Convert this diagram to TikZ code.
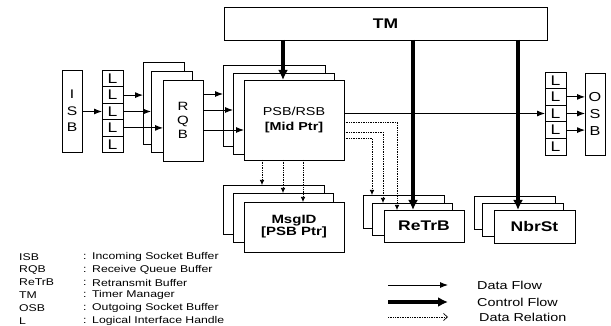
\documentclass[tikz,border=0pt]{standalone}
\usepackage{fontspec}
\setmainfont{Liberation Sans}[FakeStretch=1.25]
\usetikzlibrary{arrows.meta}
\begin{document}
\begin{tikzpicture}[x=1pt,y=-1pt,
  box/.style={draw, fill=white, line width=0.9pt, inner sep=0pt, outer sep=0pt},
  flow/.style={line width=0.9pt, -{Latex[length=8pt,width=6pt]}},
  ctrl/.style={line width=3.2pt, -{Latex[length=10pt,width=10pt]}},
  rel/.style={line width=0.7pt, densely dotted, -{Latex[length=5pt,width=4.5pt]}},
  vtext/.style={align=center, font=\fontsize{12.5}{16.5}\selectfont},
  lgtext/.style={anchor=west, inner sep=0pt, font=\fontsize{9.8}{11}\selectfont},
  lgtextb/.style={anchor=west, inner sep=0pt, font=\fontsize{11.5}{13}\selectfont}]
\useasboundingbox (0,0) rectangle (611,326);

% TM
\node[box, minimum width=323pt, minimum height=33pt, font=\fontsize{14}{16}\selectfont\bfseries] (TM) at (385.5,23.5) {TM};

% ISB
\node[box, minimum width=20pt, minimum height=82pt, vtext] (ISB) at (72,111) {I\\S\\B};

% left L stack
\foreach \i in {1,...,5}
  \node[box, minimum width=21pt, minimum height=16.4pt, font=\fontsize{14}{14}\selectfont] (La\i) at (112.5,{70.5+16.4*(\i-0.5)}) {L};

% RQB stack
\node[box, minimum width=41pt, minimum height=82pt] (rqbA) at (163.5,103) {};
\node[box, minimum width=41pt, minimum height=81pt] (rqbB) at (171.5,111.5) {};
\node[box, minimum width=40pt, minimum height=81pt, align=center, font=\fontsize{12}{14}\selectfont] (rqbC) at (183,120.5) {R\\Q\\B};

% PSB/RSB stack
\node[box, minimum width=102pt, minimum height=81pt] (psbA) at (274,105.5) {};
\node[box, minimum width=101pt, minimum height=81pt] (psbB) at (283.5,113.5) {};
\node[box, minimum width=100pt, minimum height=80pt, align=center, font=\fontsize{11.5}{15}\selectfont] (psbC) at (294,120) {PSB/RSB\\{\bfseries [Mid Ptr]}};

% MsgID stack
\node[box, minimum width=101pt, minimum height=49pt] (msA) at (273.5,209.5) {};
\node[box, minimum width=100pt, minimum height=49pt] (msB) at (283,217.5) {};
\node[box, minimum width=100pt, minimum height=50pt, align=center, font=\fontsize{12}{12}\selectfont\bfseries] (msC) at (294,227) {MsgID\\{[PSB Ptr]}};

% ReTrB stack
\node[box, minimum width=81pt, minimum height=33pt] (rtA) at (403.5,211.5) {};
\node[box, minimum width=80pt, minimum height=32pt] (rtB) at (412,219) {};
\node[box, minimum width=80pt, minimum height=32pt, font=\fontsize{14}{16}\selectfont\bfseries] (rtC) at (424,226) {ReTrB};

% NbrSt stack
\node[box, minimum width=81pt, minimum height=33pt] (nbA) at (514.5,212.5) {};
\node[box, minimum width=81pt, minimum height=33pt] (nbB) at (522.5,219.5) {};
\node[box, minimum width=81pt, minimum height=33pt, font=\fontsize{14}{16}\selectfont\bfseries] (nbC) at (534.5,226.5) {NbrSt};

% right L stack
\foreach \i in {1,...,5}
  \node[box, minimum width=21pt, minimum height=16.6pt, font=\fontsize{14}{14}\selectfont] (Lb\i) at (555.5,{72+16.6*(\i-0.5)}) {L};

% OSB
\node[box, minimum width=20pt, minimum height=82pt, align=center, font=\fontsize{13}{17}\selectfont] (OSB) at (595,114) {O\\S\\B};

% data flow
\draw[flow] (ISB.east |- La3.west) -- (La3.west);
\draw[flow] (La2.east) -- (La2.east -| rqbA.west);
\draw[flow] (La3.east) -- (La3.east -| rqbB.west);
\draw[flow] (La4.east) -- (La4.east -| rqbC.west);
\draw[flow] (rqbC.east |- 0,94) -- (psbA.west |- 0,94);
\draw[flow] (rqbC.east |- 0,110) -- (psbB.west |- 0,110);
\draw[flow] (rqbC.east |- 0,130) -- (psbC.west |- 0,130);
\draw[flow] (psbC.east |- Lb3.west) -- (Lb3.west);
\draw[flow] (Lb2.east) -- (Lb2.east -| OSB.west);
\draw[flow] (Lb3.east) -- (Lb3.east -| OSB.west);
\draw[flow] (Lb4.east) -- (Lb4.east -| OSB.west);

% data relation
\draw[rel] (psbC.south -| 262,0) -- (msA.north -| 262,0);
\draw[rel] (psbC.south -| 283,0) -- (msB.north -| 283,0);
\draw[rel] (psbC.south -| 303,0) -- (msC.north -| 303,0);
\draw[rel] (psbC.east |- 0,122) -| (rtC.north -| 397,0);
\draw[rel] (psbC.east |- 0,132) -| (rtB.north -| 383,0);
\draw[rel] (psbC.east |- 0,138) -| (rtA.north -| 372,0);

% control flow
\draw[ctrl] (TM.south -| 283,0) -- (psbC.north -| 283,0);
\draw[ctrl] (TM.south -| 413,0) -- (rtC.north -| 413,0);
\draw[ctrl] (TM.south -| 518,0) -- (nbC.north -| 518,0);

% legend (abbreviations)
\foreach \k/\d [count=\i] in {ISB/Incoming Socket Buffer, RQB/Receive Queue Buffer, ReTrB/Retransmit Buffer, TM/Timer Manager, OSB/Outgoing Socket Buffer, L/Logical Interface Handle}{
  \node[lgtext] (lgk\i) at (19,{257+12.8*(\i-1)}) {\k};
  \node[lgtext] (lgc\i) at (83,{257+12.8*(\i-1)}) {:};
  \node[lgtext] (lgd\i) at (92,{257+12.8*(\i-1)}) {\d};
}

% legend (arrows)
\coordinate (lf1) at (388,285); \coordinate (lf2) at (448,285);
\coordinate (lc1) at (388,302); \coordinate (lc2) at (448,302);
\coordinate (lr1) at (388,317); \coordinate (lr2) at (448,317);
\draw[flow] (lf1) -- (lf2);
\draw[ctrl] (lc1) -- (lc2);
\draw[rel, -{Straight Barb[length=4pt,width=7pt]}] (lr1) -- (lr2);
\node[lgtextb] (lgf) at (477,285) {Data Flow};
\node[lgtextb] (lgc) at (477,302) {Control Flow};
\node[lgtextb] (lgr) at (479,317) {Data Relation};
\end{tikzpicture}
\end{document}
